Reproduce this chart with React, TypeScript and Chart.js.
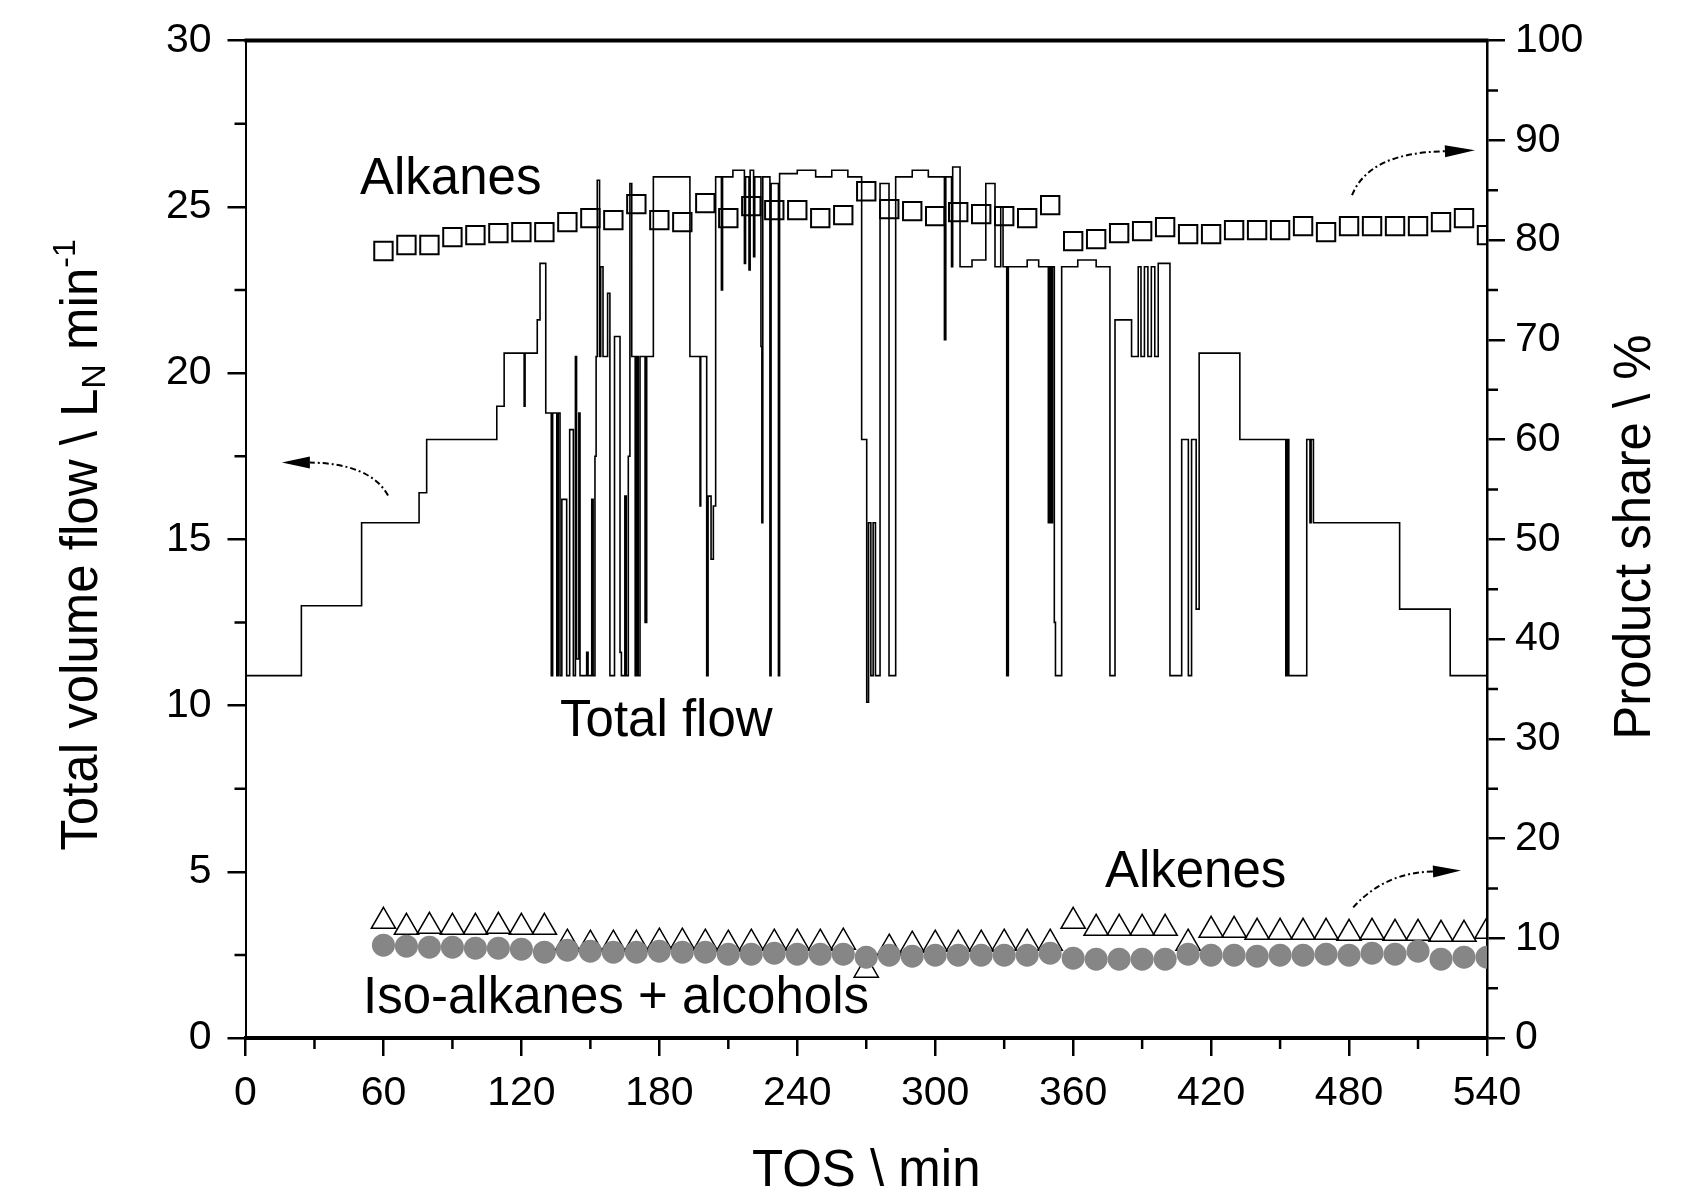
import React, { useEffect, useRef } from "react";
import { Chart, registerables } from "chart.js";

Chart.register(...registerables);

const FONT = "'Liberation Sans', Arial, Helvetica, sans-serif";

// ---- axis ticks ----
const xMajorTicks = [0, 60, 120, 180, 240, 300, 360, 420, 480, 540];
const xMinorTicks = [30, 90, 150, 210, 270, 330, 390, 450, 510];
const leftMajorTicks = [0, 5, 10, 15, 20, 25, 30];
const leftMinorTicks = [2.5, 7.5, 12.5, 17.5, 22.5, 27.5];
const rightMajorTicks = [0, 10, 20, 30, 40, 50, 60, 70, 80, 90, 100];
const rightMinorTicks = [5, 15, 25, 35, 45, 55, 65, 75, 85, 95];

// ---- total volume flow (L_N/min), value holds from time until next time ----
const flowTime = [
  0, 24.3, 50.5, 75.5, 78.8, 109.3, 112.5, 121.2, 121.6, 126.9, 128.1, 130.6,
  133.0, 133.6, 135.4, 136.0, 136.8, 137.6, 139.7, 141.0, 142.6, 143.5, 144.0,
  145.0, 145.5, 148.4, 149.0, 150.6, 151.2, 152.0, 152.5, 153.0, 154.0, 154.5,
  155.5, 157.5, 158.5, 160.5, 162.9, 163.5, 165.0, 165.6, 166.5, 167.2, 168.0,
  169.5, 170.2, 170.8, 171.6, 173.8, 174.5, 177.4, 193.3, 197.7, 198.0, 200.6,
  201.2, 202.5, 203.5, 204.5, 207.0, 207.5, 212.0, 217.0, 217.5, 219.0, 219.5,
  221.0, 221.5, 224.2, 224.6, 225.0, 228.1, 228.6, 231.8, 232.3, 240.0, 248.0,
  255.0, 262.0, 268.0, 270.2, 271.0, 272.0, 273.0, 274.0, 276.0, 279.9, 282.8,
  290.0, 297.0, 304.0, 304.6, 307.1, 307.6, 310.8, 316.0, 322.0, 326.0, 328.5,
  329.5, 331.1, 331.8, 340.0, 345.0, 349.2, 349.8, 350.5, 351.0, 351.8, 352.3,
  355.0, 362.0, 370.0, 376.0, 378.2, 385.4, 388.3, 389.5, 391.0, 392.5, 394.0,
  395.5, 397.0, 402.1, 407.2, 410.1, 411.5, 413.5, 414.8, 432.5, 452.5, 453.2,
  453.8, 461.6, 463.0, 463.5, 464.5, 502.0, 524.0, 540.0,
];
const flowValue = [
  10.9, 13.0, 15.5, 16.4, 18.0, 19.0, 20.6, 19.0, 20.6, 21.6, 23.3, 18.8,
  10.9, 18.8, 10.9, 18.8, 10.9, 16.2, 10.9, 18.3, 10.9, 20.5, 11.4,
  18.8, 10.9, 11.6, 10.9, 16.2, 10.9, 17.5, 20.5, 25.8, 20.5, 23.2,
  20.5, 22.4, 10.9, 21.1, 11.6, 10.9, 16.3, 10.9, 17.5, 25.7, 20.5,
  10.9, 20.5, 10.9, 20.5, 12.5, 20.5, 25.9, 20.5, 16.0, 20.5, 10.9,
  16.3, 14.4, 16.0, 25.9, 22.5, 25.9, 26.1, 23.3, 25.9, 23.1, 26.1,
  23.5, 25.9, 20.8, 15.5, 25.9, 10.9, 25.7, 10.9, 26.0, 26.1, 25.9,
  26.1, 25.9, 18.0, 10.1, 15.5, 10.9, 15.5, 10.9, 25.7, 10.9, 25.9,
  26.1, 25.9, 21.0, 25.9, 23.2, 26.2, 23.2, 23.4, 25.7, 23.2, 25.0,
  23.2, 10.9, 23.2, 23.4, 23.2, 15.5, 23.2, 15.5, 23.2, 12.5, 10.9,
  23.2, 23.4, 23.2, 10.9, 21.6, 20.5, 23.2, 20.5, 23.2, 20.5, 23.2,
  20.5, 23.3, 10.9, 18.0, 10.9, 18.0, 12.9, 20.6, 18.0, 10.9, 18.0,
  10.9, 18.0, 15.5, 18.0, 15.5, 12.9, 10.9, 10.9,
];

// ---- product share samples (%) ----
const sampleTime = [
  60, 70, 80, 90, 100, 110, 120, 130, 140, 150, 160, 170, 180, 190, 200, 210,
  220, 230, 240, 250, 260, 270, 280, 290, 300, 310, 320, 330, 340, 350, 360,
  370, 380, 390, 400, 410, 420, 430, 440, 450, 460, 470, 480, 490, 500, 510,
  520, 530, 540,
];
const alkanesShare = [
  78.9, 79.5, 79.5, 80.3, 80.5, 80.7, 80.8, 80.8, 81.8, 82.2, 82.0, 83.6, 82.0,
  81.8, 83.7, 82.2, 83.4, 83.0, 83.0, 82.2, 82.5, 84.9, 83.1, 82.9, 82.4, 82.8,
  82.6, 82.4, 82.2, 83.5, 79.9, 80.1, 80.7, 80.9, 81.3, 80.6, 80.6, 81.0, 81.0,
  81.0, 81.4, 80.8, 81.4, 81.4, 81.4, 81.4, 81.8, 82.2, 80.5,
];
const alkenesShare = [
  11.7, 11.1, 11.2, 11.1, 11.1, 11.2, 11.1, 11.1, 9.5, 9.4, 9.4, 9.4, 9.6,
  9.6, 9.5, 9.4, 9.5, 9.5, 9.5, 9.5, 9.6, 6.8, 9.0, 9.3, 9.4, 9.4, 9.4, 9.5,
  9.5, 9.5, 11.7, 11.0, 11.0, 11.0, 11.0, 9.5, 10.8, 10.8, 10.6, 10.6, 10.6,
  10.6, 10.5, 10.6, 10.5, 10.5, 10.4, 10.4, 10.7,
];
const isoAlkanesAlcoholsShare = [
  9.3, 9.2, 9.1, 9.1, 9.0, 9.0, 8.9, 8.6, 8.8, 8.7, 8.6, 8.6, 8.7, 8.6, 8.6,
  8.4, 8.4, 8.5, 8.4, 8.4, 8.4, 8.1, 8.3, 8.2, 8.3, 8.3, 8.3, 8.3, 8.3, 8.5,
  8.0, 7.9, 7.9, 7.9, 7.9, 8.4, 8.3, 8.3, 8.2, 8.3, 8.3, 8.4, 8.3, 8.5, 8.4,
  8.7, 7.9, 8.1, 8.1,
];

const decorPlugin = {
  id: "decor",
  afterDraw(chart: any) {
    const { ctx, chartArea } = chart;
    const { left, right, top, bottom } = chartArea;
    const sx = chart.scales.x;
    const sl = chart.scales.yL;
    const sr = chart.scales.yR;
    const px = (v: number) => sx.getPixelForValue(v);
    const py = (v: number) => sl.getPixelForValue(v);

    ctx.save();
    ctx.strokeStyle = "#000";
    ctx.fillStyle = "#000";

    // top frame line
    ctx.lineWidth = 4;
    ctx.beginPath();
    ctx.moveTo(left - 1, top);
    ctx.lineTo(right + 1.5, top);
    ctx.stroke();

    // minor ticks
    ctx.lineWidth = 2.5;
    ctx.beginPath();
    xMinorTicks.forEach((v) => {
      const p = px(v);
      ctx.moveTo(p, bottom);
      ctx.lineTo(p, bottom + 11);
    });
    leftMinorTicks.forEach((v) => {
      const p = sl.getPixelForValue(v);
      ctx.moveTo(left, p);
      ctx.lineTo(left - 11, p);
    });
    rightMinorTicks.forEach((v) => {
      const p = sr.getPixelForValue(v);
      ctx.moveTo(right, p);
      ctx.lineTo(right + 11, p);
    });
    ctx.stroke();

    // annotations
    ctx.font = `51px ${FONT}`;
    ctx.textAlign = "left";
    ctx.textBaseline = "alphabetic";
    ctx.fillText("Alkanes", px(49.8), py(25.4));
    ctx.fillText("Total flow", px(136.8), py(9.09));
    ctx.fillText("Alkenes", px(373.8), py(4.53));
    ctx.fillText("Iso-alkanes + alcohols", px(51.1), py(0.75));

    // x axis title
    ctx.textAlign = "center";
    ctx.fillText("TOS \\ min", (left + right) / 2, 1186);

    // right axis title
    ctx.save();
    ctx.translate(1650, 537);
    ctx.rotate(-Math.PI / 2);
    ctx.textAlign = "center";
    ctx.fillText("Product share \\ %", 0, 0);
    ctx.restore();

    // left axis title with sub/superscript
    ctx.save();
    ctx.translate(97, 545);
    ctx.rotate(-Math.PI / 2);
    ctx.textAlign = "left";
    const parts = [
      { t: "Total volume flow \\ L", size: 51, dy: 0 },
      { t: "N", size: 34, dy: 8 },
      { t: " min", size: 51, dy: 0 },
      { t: "-1", size: 32, dy: -22 },
    ];
    let total = 0;
    const widths = parts.map((p) => {
      ctx.font = `${p.size}px ${FONT}`;
      const w = ctx.measureText(p.t).width;
      total += w;
      return w;
    });
    let cx = -total / 2;
    parts.forEach((p, i) => {
      ctx.font = `${p.size}px ${FONT}`;
      ctx.fillText(p.t, cx, p.dy);
      cx += widths[i];
    });
    ctx.restore();

    // curved dashed arrows
    const arrows = [
      { s: [62.0, 16.32], c: [54.2, 17.28], e: [28.0, 17.31], t: [15.8, 17.31] },
      { s: [481.3, 25.35], c: [488.8, 26.64], e: [521.7, 26.67], t: [534.8, 26.7] },
      { s: [481.8, 3.93], c: [495.6, 4.98], e: [516.5, 5.01], t: [528.7, 5.04] },
    ];
    arrows.forEach((a) => {
      const S = [px(a.s[0]), py(a.s[1])];
      const C = [px(a.c[0]), py(a.c[1])];
      const E = [px(a.e[0]), py(a.e[1])];
      const T = [px(a.t[0]), py(a.t[1])];
      ctx.lineWidth = 2;
      ctx.setLineDash([6, 3, 2, 3]);
      ctx.beginPath();
      ctx.moveTo(S[0], S[1]);
      ctx.quadraticCurveTo(C[0], C[1], E[0], E[1]);
      ctx.stroke();
      ctx.setLineDash([]);
      const ang = Math.atan2(T[1] - E[1], T[0] - E[0]);
      const len = Math.hypot(T[0] - E[0], T[1] - E[1]);
      const hw = 6;
      ctx.beginPath();
      ctx.moveTo(T[0], T[1]);
      ctx.lineTo(
        T[0] - len * Math.cos(ang) + hw * Math.sin(ang),
        T[1] - len * Math.sin(ang) - hw * Math.cos(ang)
      );
      ctx.lineTo(
        T[0] - len * Math.cos(ang) - hw * Math.sin(ang),
        T[1] - len * Math.sin(ang) + hw * Math.cos(ang)
      );
      ctx.closePath();
      ctx.fill();
    });

    ctx.restore();
  },
};

export default function App() {
  const ref = useRef<HTMLCanvasElement>(null);

  useEffect(() => {
    const canvas = ref.current;
    if (!canvas) return;

    const tickFont = { family: FONT, size: 41 };

    const chart = new Chart(canvas, {
      type: "line",
      data: {
        datasets: [
          {
            label: "Iso-alkanes + alcohols",
            data: sampleTime.map((t, i) => ({ x: t, y: isoAlkanesAlcoholsShare[i] })),
            yAxisID: "yR",
            showLine: false,
            pointStyle: "circle",
            pointRadius: 11.5,
            pointBackgroundColor: "#868686",
            pointBorderColor: "#868686",
            pointBorderWidth: 0,
            order: 0,
          } as any,
          {
            label: "Alkenes",
            data: sampleTime.map((t, i) => ({ x: t, y: alkenesShare[i] })),
            yAxisID: "yR",
            showLine: false,
            pointStyle: "triangle",
            pointRadius: 14,
            pointBackgroundColor: "rgba(255,255,255,0)",
            pointBorderColor: "#000",
            pointBorderWidth: 1.5,
            order: 1,
          } as any,
          {
            label: "Alkanes",
            data: sampleTime.map((t, i) => ({ x: t, y: alkanesShare[i] })),
            yAxisID: "yR",
            showLine: false,
            pointStyle: "rect",
            pointRadius: 13,
            pointBackgroundColor: "rgba(255,255,255,0)",
            pointBorderColor: "#000",
            pointBorderWidth: 2,
            order: 2,
          } as any,
          {
            label: "Total flow",
            data: flowTime.map((t, i) => ({ x: t, y: flowValue[i] })),
            yAxisID: "yL",
            stepped: true,
            borderColor: "#000",
            borderWidth: 1.6,
            pointRadius: 0,
            fill: false,
            order: 3,
          } as any,
        ],
      },
      options: {
        responsive: false,
        animation: false,
        events: [],
        layout: { padding: { top: 38, left: 0, right: 0, bottom: 0 } },
        plugins: {
          legend: { display: false },
          tooltip: { enabled: false },
          title: { display: false },
        },
        scales: {
          x: {
            type: "linear",
            position: "bottom",
            min: 0,
            max: 540,
            afterBuildTicks: (s: any) => {
              s.ticks = xMajorTicks.map((v) => ({ value: v }));
            },
            afterFit: (s: any) => {
              s.height = 159;
            },
            ticks: {
              font: tickFont,
              color: "#000",
              padding: 13,
              maxRotation: 0,
              autoSkip: false,
            },
            grid: {
              drawOnChartArea: false,
              drawTicks: true,
              tickLength: 18,
              lineWidth: 2.5,
              color: "#000",
            },
            border: { display: true, color: "#000", width: 4 },
          },
          yL: {
            type: "linear",
            position: "left",
            min: 0,
            max: 30,
            afterBuildTicks: (s: any) => {
              s.ticks = leftMajorTicks.map((v) => ({ value: v }));
            },
            afterFit: (s: any) => {
              s.width = 245.5;
            },
            ticks: { font: tickFont, color: "#000", padding: 16 },
            grid: {
              drawOnChartArea: false,
              drawTicks: true,
              tickLength: 18,
              lineWidth: 2.5,
              color: "#000",
            },
            border: { display: true, color: "#000", width: 2 },
          },
          yR: {
            type: "linear",
            position: "right",
            min: 0,
            max: 100,
            afterBuildTicks: (s: any) => {
              s.ticks = rightMajorTicks.map((v) => ({ value: v }));
            },
            afterFit: (s: any) => {
              s.width = 209;
            },
            ticks: { font: tickFont, color: "#000", padding: 10 },
            grid: {
              drawOnChartArea: false,
              drawTicks: true,
              tickLength: 18,
              lineWidth: 2.5,
              color: "#000",
            },
            border: { display: true, color: "#000", width: 2.5 },
          },
        },
      } as any,
      plugins: [decorPlugin],
    });

    return () => chart.destroy();
  }, []);

  return (
    <div
      style={{
        position: "fixed",
        left: 0,
        top: 0,
        width: 1696,
        height: 1197,
        background: "#fff",
      }}
    >
      <canvas ref={ref} width={1696} height={1197} style={{ display: "block" }} />
    </div>
  );
}
